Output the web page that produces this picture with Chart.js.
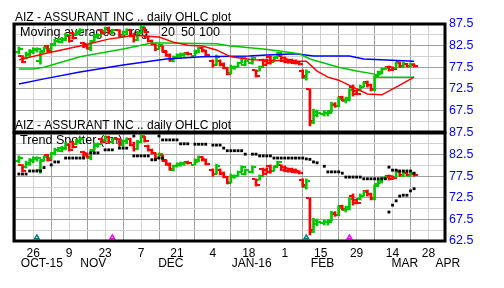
<!DOCTYPE html>
<html>
<head>
<meta charset="utf-8">
<script src="https://cdn.jsdelivr.net/npm/chart.js@4.4.1/dist/chart.umd.min.js"></script>
<style>
html, body { margin: 0; padding: 0; background: #fff; }
#wrap { position: relative; width: 504px; height: 288px; }
#wrap canvas { position: absolute; left: 0; top: 0; }
</style>
</head>
<body>
<div id="wrap">
  <canvas id="upper" width="504" height="288"></canvas>
  <canvas id="lower" width="504" height="288"></canvas>
</div>
<script>
// trading-day slot: 0 = Mon 19 Oct 2015, five slots a week
const days = [1,2,3,4,5,6,7,8,9,10,11,12,13,14,15,16,17,18,19,20,21,22,23,24,25,26,27,
  29,30,31,32,33,34,35,36,37,38,39,40,41,42,43,44,45,46,47,48,
  50,51,52,53,
  55,56,57,58,59,60,61,62,63,64,
  66,67,68,69,70,71,72,73,74,75,76,77,78,79,80,81,82,83,84,
  86,87,88,89,90,91,92,93,94,95,96,97,98,99,100,101,102,103,104,105,106,107,108,109,110,111];
const open = [81.0,80.0,79.6,80.4,81.0,81.4,79.0,81.2,82.4,81.6,82.8,83.6,83.4,83.8,84.8,85.4,84.9,85.4,83.2,82.8,81.6,83.6,84.5,86.0,85.8,86.6,85.5,
  86.0,84.8,85.6,86.0,84.8,83.9,85.4,86.5,84.6,83.5,82.9,81.8,82.4,81.0,80.4,79.0,79.8,80.2,80.4,80.8,
  80.2,80.9,82.0,81.4,
  79.0,78.0,79.0,78.3,77.3,76.2,77.2,77.6,78.5,78.0,
  78.4,76.8,76.6,79.2,79.0,79.8,78.7,79.8,80.0,79.6,79.3,79.2,79.0,78.6,76.6,75.0,72.5,64.6,66.4,
  66.6,66.8,67.3,68.8,68.6,70.6,69.6,70.0,73.0,72.0,72.2,73.0,74.1,73.4,72.3,75.6,76.0,77.0,77.6,77.5,77.4,78.6,77.6,78.3,77.6,78.1];
const high = [82.2,80.2,81.0,81.6,82.0,82.0,81.3,82.2,82.6,83.0,84.0,84.2,84.4,85.3,84.9,85.6,86.0,86.4,83.3,82.9,83.7,85.2,85.2,86.3,86.8,86.8,86.3,
  86.2,85.9,86.4,86.3,85.4,85.8,87.0,86.7,84.7,83.8,82.9,82.9,82.4,81.2,80.6,80.1,80.6,80.8,80.8,81.0,
  81.5,82.2,82.1,81.5,
  79.2,80.3,79.2,78.5,77.5,78.0,77.8,78.7,79.9,79.2,
  79.9,76.9,77.8,79.4,79.4,80.1,79.9,81.0,80.2,79.9,79.4,79.4,79.2,78.8,76.9,76.9,72.5,67.8,67.6,
  67.4,67.2,69.4,69.3,70.6,70.8,70.6,72.5,73.4,72.2,73.4,74.1,74.3,73.6,75.5,76.6,77.3,77.5,77.8,77.6,78.7,78.7,78.7,78.4,78.5,78.2];
const low = [80.6,78.5,79.4,80.0,80.6,81.0,78.2,81.0,81.0,81.4,82.4,83.2,83.1,83.6,83.3,84.0,84.8,85.2,82.0,81.7,81.3,83.6,84.2,85.2,85.6,85.2,85.2,
  84.6,84.4,85.0,84.5,83.3,83.6,85.2,85.4,83.3,82.6,81.3,81.7,81.0,80.0,78.9,78.7,79.6,79.8,80.0,80.3,
  80.1,80.8,81.0,80.1,
  77.5,78.0,77.8,77.1,75.7,75.9,77.0,77.5,78.5,77.8,
  78.2,75.2,76.6,77.8,78.2,78.2,78.7,79.8,78.8,78.5,78.4,78.3,78.2,78.0,75.0,74.5,63.9,64.4,66.0,
  66.2,66.2,67.1,68.2,68.3,69.7,69.2,69.7,70.8,71.1,72.0,72.9,72.9,72.0,72.0,75.5,75.9,76.9,76.6,76.7,77.3,77.5,77.4,77.6,77.5,77.5];
const close = [81.8,78.8,80.6,81.2,81.6,81.8,81.0,81.9,81.3,82.7,83.6,84.0,84.1,85.0,83.6,84.3,85.6,86.1,82.3,81.9,83.4,85.0,85.0,85.4,86.5,85.5,86.0,
  84.9,85.6,86.0,84.8,83.8,85.5,86.7,85.6,83.6,82.8,81.6,82.6,81.2,80.2,79.1,79.8,80.4,80.5,80.6,80.5,
  81.3,82.0,81.2,80.4,
  77.9,79.8,78.0,77.3,76.0,77.6,77.6,78.4,79.6,79.0,
  79.6,75.5,77.5,78.0,78.4,78.8,79.6,80.7,79.0,78.8,78.6,78.5,78.4,78.2,75.4,76.4,65.0,67.2,67.0,
  67.0,67.0,69.0,68.6,70.2,70.0,70.3,72.2,71.2,71.4,73.0,73.8,73.3,72.4,75.2,76.3,77.0,77.3,76.9,77.0,78.4,77.7,78.3,77.8,78.2,77.7];

// moving averages
const ma20Days = [1,8,18,26,30,33,40,44,48,52,56,60,66,79,81,84,87,90,94,98,102,106,111];
const ma20 = [79.2,80.6,82.4,84.0,84.5,84.9,84.5,83.3,82.6,82.4,81.5,79.9,79.2,78.9,78.9,76.6,75.2,74.5,72.9,71.3,71.1,72.9,75.2];
const ma50Days = [1,5,8,18,30,38,42,56,60,69,73,79,82,90,95,100,101,111];
const ma50 = [77.1,77.1,77.5,79.9,81.7,83.1,83.1,82.9,82.4,81.7,81.3,80.6,79.4,77.5,76.6,75.9,75.2,75.2];
const ma100Days = [1,8,18,30,42,52,65,70,78,83,93,97,111];
const ma100 = [73.6,74.8,76.4,78.0,79.4,79.9,80.1,80.3,80.6,80.1,80.1,79.4,78.9];

// trend spotter dots
const trendDays = [1,2,3,4,5,6,7,8,10,11,12,14,15,16,17,18,19,21,22,23,25,26,27,29,30,31,
  33,34,35,36,37,38,39,40,41,
  33,40,41,42,43,44,45,46,47,48,50,51,52,53,55,56,57,58,59,60,61,62,63,64,66,67,68,69,70,71,
  72,73,74,75,76,77,78,79,80,81,82,83,84,86,87,88,89,90,91,92,93,94,95,96,
  97,98,99,100,101,102,103,104,105,106,107,108,109,110,111,
  104,105,106,107,108,109,110,111];
const trendValues = [78.0,78.0,78.0,78.7,78.7,78.7,78.7,79.5,80.1,80.8,80.8,81.7,81.7,81.7,81.7,81.7,81.7,82.9,82.9,82.9,83.6,83.6,83.6,84.0,84.0,84.0,
  82.2,82.2,82.2,82.2,82.2,81.3,81.3,81.7,81.7,
  86.8,86.8,85.9,85.9,85.9,85.9,85.9,85.0,85.0,85.0,84.9,84.9,84.9,84.9,84.7,84.7,84.7,84.0,83.4,83.4,83.4,83.4,83.4,82.6,82.6,82.6,82.2,82.2,82.2,82.2,
  81.7,81.7,81.7,81.7,81.7,81.7,81.7,81.7,81.7,81.5,81.4,80.8,80.6,79.8,78.5,78.5,78.5,78.5,78.2,77.3,77.3,77.3,77.3,77.3,
  76.9,76.9,76.9,76.9,76.9,76.9,76.9,79.6,78.9,78.9,78.7,78.7,78.7,78.7,78.2,
  69.2,70.8,71.8,72.9,73.1,73.1,74.1,74.6];

const earningsDays = [6, 81];
const dividendDays = [27, 93];

// axis ticks and labels
const weekTicks = [0,5,10,15,20,25,30,35,40,45,50,55,60,65,70,75,80,85,90,95,100,105,110,115];
const darkWeeks = [0,10,20,30,40,50,60,70,80,90,100,110];
const labelDays = [5,15,25,35,45,55,65,75,85,95,105,115];
const dayLabels = ['26','9','23','7','21','4','18','1','15','29','14','28'];
const monthLabels = ['OCT-15','NOV','DEC','JAN-16','FEB','MAR','APR'];
const monthAt = [7.4,21.7,43.3,65.8,85.5,108.4,120.4];
const priceTicks = [62.5,65,67.5,70,72.5,75,77.5,80,82.5,85,87.5];
const priceLabels = [62.5,67.5,72.5,77.5,82.5,87.5];

const GREEN = '#00c800', RED = '#ff0000', BLUE = '#0000ff';
const GRID_DARK = '#a0a0a0', GRID_LIGHT = '#d2d2d2';
const FONT = '"Liberation Sans", Arial, sans-serif';

function tickImage(color, isOpen) {
  const c = document.createElement('canvas');
  c.width = 8; c.height = 2;
  const g = c.getContext('2d');
  g.fillStyle = color;
  g.fillRect(isOpen ? 0 : 5, 0, 3, 2);
  return c;
}
const openG = tickImage(GREEN, true), openR = tickImage(RED, true);
const closeG = tickImage(GREEN, false), closeR = tickImage(RED, false);
const isUp = i => close[i] >= open[i];
const pairs = (xs, ys) => xs.map((x, i) => ({x: x, y: ys[i]}));

function priceSets() {
  return [
    {type: 'bar', data: days.map((d, i) => ({x: d, y: [low[i], high[i]]})),
     backgroundColor: c => isUp(c.dataIndex) ? GREEN : RED, barThickness: 2, borderWidth: 0},
    {type: 'scatter', data: pairs(days, open), pointRadius: 3,
     pointStyle: c => isUp(c.dataIndex) ? openG : openR},
    {type: 'scatter', data: pairs(days, close), pointRadius: 3,
     pointStyle: c => isUp(c.dataIndex) ? closeG : closeR}
  ];
}

function maLine(xs, ys, color) {
  return {type: 'line', data: pairs(xs, ys), borderColor: color, borderWidth: 1.5,
          pointRadius: 0, fill: false, tension: 0};
}

function xScale(showLabels) {
  return {
    type: 'linear', min: -0.36, max: 119.6, offset: false,
    afterBuildTicks: s => { s.ticks = weekTicks.map(v => ({value: v})); },
    afterFit: s => { s.height = showLabels ? 47 : 0; },
    grid: {offset: false, drawTicks: false,
           color: c => darkWeeks.includes(c.tick.value) ? GRID_DARK : GRID_LIGHT},
    border: {display: false},
    ticks: {display: showLabels, autoSkip: false, maxRotation: 0, padding: 5, color: '#000',
            font: {family: FONT, size: 12},
            callback: v => { const k = labelDays.indexOf(v); return k < 0 ? '' : dayLabels[k]; }}
  };
}

function yScale(skipBottom) {
  return {
    type: 'linear', position: 'right', min: 62.5, max: 87.5, beginAtZero: false,
    afterBuildTicks: s => { s.ticks = priceTicks.map(v => ({value: v})); },
    afterFit: s => { s.width = 59; },
    grid: {drawTicks: false,
           color: c => priceLabels.includes(c.tick.value) ? GRID_DARK : GRID_LIGHT},
    border: {display: false},
    ticks: {autoSkip: false, padding: 4, color: BLUE, font: {family: FONT, size: 12.5},
            callback: v => (priceLabels.includes(v) && !(skipBottom && v === 62.5)) ? v.toFixed(1) : ''}
  };
}

const whiteBg = {
  id: 'whiteBg',
  beforeDraw(chart) {
    const ctx = chart.ctx;
    ctx.save();
    ctx.fillStyle = '#fff';
    ctx.fillRect(0, 0, chart.width, chart.height);
    ctx.restore();
  }
};

const frame = {
  id: 'frame',
  afterDraw(chart) {
    const a = chart.chartArea, ctx = chart.ctx;
    ctx.save();
    ctx.lineWidth = 3;
    ctx.strokeStyle = '#000';
    ctx.strokeRect(a.left, a.top, a.right - a.left, a.bottom - a.top);
    ctx.restore();
  }
};

// title above the panel, and the panel's own caption pieces (text, x) inside it
function captions(title, titleY, notes, noteY) {
  return {
    id: 'captions',
    beforeDatasetsDraw(chart) {
      const ctx = chart.ctx;
      ctx.save();
      ctx.fillStyle = '#000';
      ctx.textBaseline = 'middle';
      ctx.font = '12px ' + FONT;
      ctx.fillText(title, 15, titleY);
      ctx.font = '12.6px ' + FONT;
      notes.forEach(n => ctx.fillText(n[0], n[1], noteY));
      ctx.restore();
    }
  };
}

const months = {
  id: 'months',
  afterDraw(chart) {
    const ctx = chart.ctx, sx = chart.scales.x;
    ctx.save();
    ctx.fillStyle = '#000';
    ctx.font = '12px ' + FONT;
    ctx.textAlign = 'center';
    ctx.textBaseline = 'middle';
    monthLabels.forEach((m, i) => ctx.fillText(m, sx.getPixelForValue(monthAt[i]), 263.5));
    ctx.restore();
  }
};

const common = {
  responsive: false, animation: false, events: [],
  plugins: {legend: {display: false}, tooltip: {enabled: false}}
};

new Chart(document.getElementById('upper'), {
  type: 'scatter',
  data: {datasets: [
    maLine(ma20Days, ma20, RED),
    maLine(ma50Days, ma50, GREEN),
    maLine(ma100Days, ma100, BLUE),
    ...priceSets()
  ]},
  options: Object.assign({}, common, {
    layout: {padding: {top: 24, bottom: 156, left: 14, right: 0}},
    scales: {x: xScale(false), y: yScale(true)}
  }),
  plugins: [whiteBg,
    captions('AIZ - ASSURANT INC .. daily OHLC plot', 17.5,
             [['Moving averages .. reg', 20], ['20', 161], ['50', 181], ['100', 199]], 32.5),
    frame]
});

new Chart(document.getElementById('lower'), {
  type: 'scatter',
  data: {datasets: [
    {type: 'scatter', data: pairs(trendDays, trendValues), pointStyle: 'rect', pointRadius: 2,
     backgroundColor: '#000', borderWidth: 0},
    {type: 'scatter', data: earningsDays.map(d => ({x: d, y: 63.3})), pointStyle: 'triangle',
     pointRadius: 2.6, backgroundColor: '#fff', borderColor: '#008080', borderWidth: 1.5},
    {type: 'scatter', data: dividendDays.map(d => ({x: d, y: 63.3})), pointStyle: 'triangle',
     pointRadius: 2.6, backgroundColor: '#fff', borderColor: '#ff00ff', borderWidth: 1.5},
    ...priceSets()
  ]},
  options: Object.assign({}, common, {
    layout: {padding: {top: 133, bottom: 0, left: 14, right: 0}},
    scales: {x: xScale(true), y: yScale(false)}
  }),
  plugins: [captions('AIZ - ASSURANT INC .. daily OHLC plot', 126,
                     [['Trend Spotter (tm)', 20]], 140.5),
            months, frame]
});
</script>
</body>
</html>
